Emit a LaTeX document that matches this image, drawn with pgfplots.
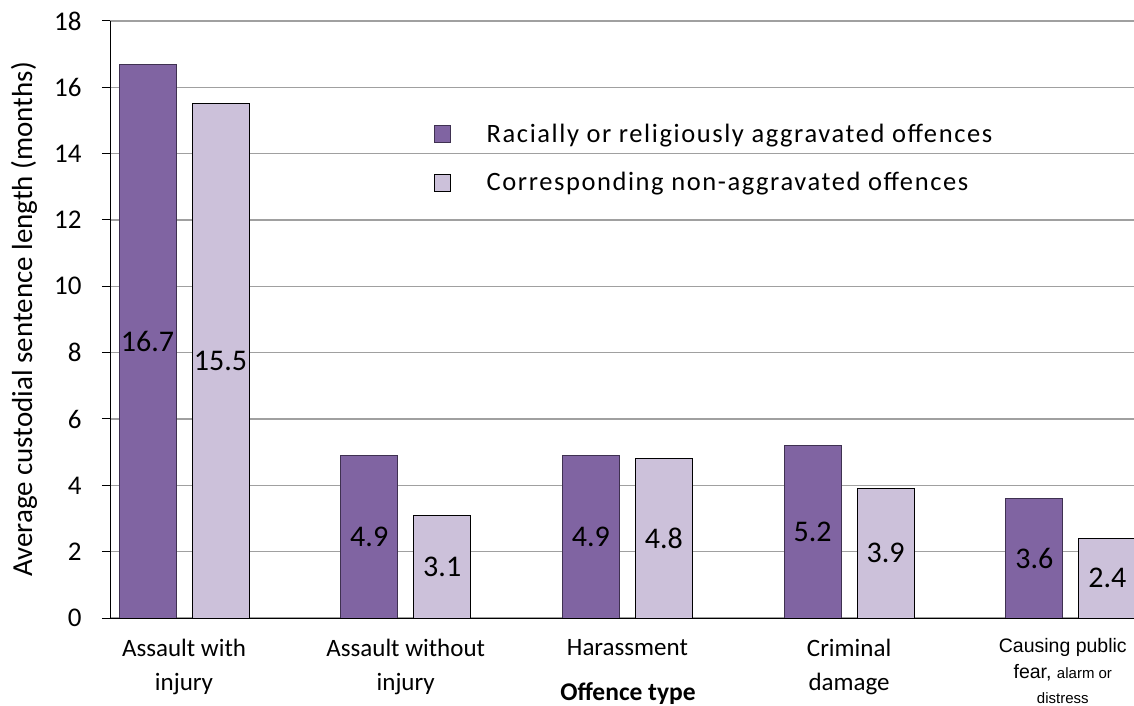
\documentclass[border=0pt]{standalone}
\usepackage{fontspec}
\setmainfont{Carlito}
\newfontfamily\wide[LetterSpace=6]{Carlito}
\newfontfamily\arial{Liberation Sans}
\usepackage{pgfplots}
\pgfplotsset{compat=1.18}
\definecolor{darkp}{HTML}{8064A2}
\definecolor{darkpb}{HTML}{3F3151}
\definecolor{lightp}{HTML}{CCC1DA}
\definecolor{gridc}{HTML}{A0A0A0}
\newcommand\lastlabel{{\arial\fontsize{19.5bp}{26bp}\selectfont Causing public}\\[-8bp]{\arial\fontsize{19.5bp}{26bp}\selectfont fear, \fontsize{15bp}{18bp}\selectfont alarm or}\\[-9bp]{\arial\fontsize{15bp}{18bp}\selectfont distress}}
\begin{document}
\begin{tikzpicture}
\begin{axis}[
  at={(110bp,88bp)}, anchor=south west,
  scale only axis, width=1024bp, height=597bp,
  xmin=-0.334, xmax=4.285, ymin=0, ymax=18,
  ybar=16bp, bar width=57bp,
  axis x line*=bottom, axis y line*=left,
  axis line style={-, black, line width=1bp},
  ytick={0,2,...,18},
  ymajorgrids, grid style={gridc, line width=1.2bp},
  ytick style={black, line width=1bp}, tick align=outside, major tick length=8bp,
  xtick={0,1,2,3}, xtick style={draw=none},
  xticklabels={Assault with\\injury, Assault without\\injury, Harassment, Criminal\\damage},
  xticklabel style={align=center, font=\fontsize{25bp}{34bp}\selectfont, anchor=north, yshift=-10bp},
  extra x ticks={3.964},
  extra x tick labels={\lastlabel},
  extra x tick style={xtick style={draw=none}, grid=none, xticklabel style={yshift=1bp}},
  /pgf/number format/assume math mode=true,
  yticklabel style={font=\fontsize{27bp}{30bp}\selectfont, xshift=-17bp},
  ylabel={Average custodial sentence length (months)},
  every axis y label/.style={at={(rel axis cs:0,0.5)}, rotate=90, anchor=center, yshift=86bp, font=\fontsize{29bp}{32bp}\selectfont},
  xlabel={\bfseries Offence type},
  xlabel style={at={(rel axis cs:0.5059,0)}, anchor=center, yshift=-76bp, font=\fontsize{25.5bp}{28bp}\selectfont},
  nodes near coords={\pgfmathprintnumber[fixed,fixed zerofill,precision=1]{\pgfplotspointmeta}},
  visualization depends on={y \as \rawy},
  nodes near coords style={font=\fontsize{30bp}{32bp}\selectfont, black, anchor=center, yshift={-\rawy*16.583bp}},
  legend image code/.code={\draw[#1, line width=1bp] (0bp,-8.5bp) rectangle (16bp,8.5bp);},
  legend style={at={(0.313,0.835)}, anchor=north west, draw=none, fill=none,
    font=\wide\fontsize{26.5bp}{30bp}\selectfont, row sep=25bp,
    /tikz/every odd column/.append style={column sep=34bp}},
  legend cell align=left,
]
\addplot[fill=darkp, draw=darkpb, line width=1bp] coordinates {(0,16.7) (1,4.9) (2,4.9) (3,5.2) (4,3.6)};
\addplot[fill=lightp, draw=black, line width=1bp] coordinates {(0,15.5) (1,3.1) (2,4.8) (3,3.9) (4,2.4)};
\legend{Racially or religiously aggravated offences, Corresponding non-aggravated offences}
\end{axis}
\pgfresetboundingbox
\path[use as bounding box] (0,0) rectangle (1134bp,706bp);
\end{tikzpicture}
\end{document}
